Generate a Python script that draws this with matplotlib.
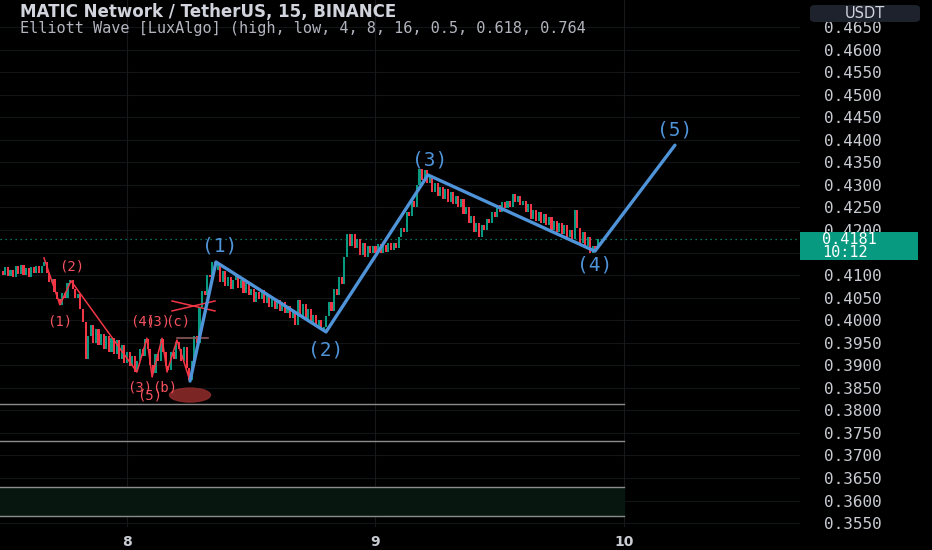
import matplotlib
matplotlib.use('Agg')
import matplotlib.pyplot as plt
from matplotlib.patches import Ellipse, Rectangle, FancyBboxPatch
import numpy as np

# ── velas de 15 min (cierres), la apertura es el cierre anterior ──────────────
closes = [
    # lateral inicial
    0.4100, 0.4118, 0.4098, 0.4112, 0.4095, 0.4120, 0.4102, 0.4122, 0.4100, 0.4115,
    0.4096, 0.4118, 0.4104, 0.4121, 0.4105, 0.4119, 0.4130,
    # caída (1) / rebote (2)
    0.4105, 0.4085, 0.4092, 0.4062, 0.4048, 0.4034,
    0.4060, 0.4050, 0.4082, 0.4088,
    0.4070, 0.4050, 0.4058, 0.4025, 0.3995, 0.3915, 0.3965,
    0.3990, 0.3950, 0.3980, 0.3945, 0.3970, 0.3935, 0.3965, 0.3930, 0.3960, 0.3925,
    0.3955, 0.3915, 0.3945, 0.3905, 0.3930, 0.3898,
    # zigzag del fondo
    0.3920, 0.3885, 0.3910, 0.3935, 0.3920, 0.3958, 0.3935, 0.3900, 0.3882, 0.3925,
    0.3910, 0.3958, 0.3930, 0.3898, 0.3890, 0.3930, 0.3915, 0.3952, 0.3935, 0.3910,
    0.3940, 0.3895, 0.3868,
    # onda (1)
    0.3910, 0.3965, 0.3950, 0.4030, 0.4065, 0.4055, 0.4100, 0.4095, 0.4128, 0.4112,
    # onda (2)
    0.4125, 0.4085, 0.4110, 0.4075, 0.4095, 0.4070, 0.4088, 0.4100, 0.4072, 0.4090,
    0.4060, 0.4082, 0.4055, 0.4070, 0.4040, 0.4062, 0.4048, 0.4068, 0.4038, 0.4055,
    0.4030, 0.4050, 0.4025, 0.4045, 0.4020, 0.4040, 0.4015, 0.4032, 0.4005, 0.4020,
    0.3990, 0.4045, 0.4010, 0.4035, 0.4000, 0.4025, 0.3995, 0.4012, 0.3985, 0.4000,
    0.3978, 0.3985,
    # onda (3)
    0.4010, 0.4040, 0.4020, 0.4070, 0.4055, 0.4095, 0.4080, 0.4140, 0.4190, 0.4165,
    0.4190, 0.4160, 0.4180, 0.4145, 0.4170, 0.4140, 0.4165, 0.4148, 0.4165, 0.4150,
    0.4168, 0.4150, 0.4166, 0.4152, 0.4170, 0.4155, 0.4172, 0.4160, 0.4185, 0.4205,
    0.4195, 0.4240, 0.4230, 0.4265, 0.4250, 0.4300, 0.4335, 0.4310, 0.4332, 0.4305,
    # onda (4)
    0.4318, 0.4285, 0.4305, 0.4275, 0.4295, 0.4268, 0.4290, 0.4262, 0.4285, 0.4258,
    0.4275, 0.4250, 0.4268, 0.4235, 0.4250, 0.4215, 0.4232, 0.4195, 0.4215, 0.4185,
    0.4210, 0.4200, 0.4225, 0.4215, 0.4240, 0.4228, 0.4255, 0.4240, 0.4262, 0.4248,
    0.4265, 0.4252, 0.4280, 0.4262, 0.4275, 0.4255, 0.4265, 0.4240, 0.4258, 0.4225,
    0.4245, 0.4220, 0.4240, 0.4215, 0.4235, 0.4210, 0.4228, 0.4200, 0.4220, 0.4195,
    0.4215, 0.4190, 0.4210, 0.4185, 0.4200, 0.4180, 0.4245, 0.4205, 0.4170, 0.4195,
    0.4165, 0.4185, 0.4150, 0.4165, 0.4158, 0.4181,
]
first_open = 0.4110
start_day = 7.5          # primera vela
bars_per_day = 96        # 15 min

# ── onda Elliott principal (azul) ─────────────────────────────────────────────
wave_x = [8.2535, 8.358, 8.801, 9.211, 9.883, 10.205]
wave_y = [0.3865, 0.4129, 0.3974, 0.4322, 0.4153, 0.4388]
wave_lbl = ["(1)", "(2)", "(3)", "(4)", "(5)"]
wave_lbl_x = [8.374, 8.801, 9.219, 9.883, 10.205]
wave_lbl_y = [0.4164, 0.3934, 0.4355, 0.4122, 0.4422]

# ── onda menor (roja) ─────────────────────────────────────────────────────────
sub_x = [7.666, 7.730, 7.775, 8.040, 8.080, 8.101, 8.141, 8.161, 8.201, 8.2535]
sub_y = [0.4138, 0.4034, 0.4087, 0.3885, 0.3960, 0.3874, 0.3960, 0.3885, 0.3956, 0.3865]
sub_lbl = ["(2)", "(1)", "(4)", "(3)", "(c)", "(3)", "(b)", "(5)"]
sub_lbl_x = [7.779, 7.730, 8.064, 8.124, 8.205, 8.052, 8.153, 8.092]
sub_lbl_y = [0.4120, 0.3996, 0.3998, 0.3998, 0.3998, 0.3851, 0.3851, 0.3833]

# niveles horizontales
levels = [0.3814, 0.3732, 0.3630, 0.3566]
last_price = 0.4181
price_ticks = np.arange(0.3550, 0.46501, 0.005)
day_ticks = [8, 9, 10]

GREEN = "#089981"
RED = "#f23645"
BLUE = "#4f93d8"
TXT = "#c8cbd2"

fig = plt.figure(figsize=(9.32, 5.5), dpi=100)
fig.patch.set_facecolor("#000000")
ax = fig.add_axes([0, 23 / 550, 800 / 932, 527 / 550])
ax.set_facecolor("#000000")
ax.set_xlim(7.4889, 10.7083)
ax.set_ylim(0.35414, 0.47099)

# rejilla tenue
for p in price_ticks:
    ax.axhline(p, color="#121418", lw=0.8, zorder=0)
for d in day_ticks:
    ax.axvline(d, color="#16181c", lw=0.8, zorder=0)

# zona verde y líneas de nivel
ax.fill_between([7.4889, 10.0], levels[3], levels[2], color="#07170f", zorder=1)
for lv in levels:
    ax.plot([7.4889, 10.0], [lv, lv], color="#8c8c8c", lw=1.0, zorder=2)

# velas
closes = np.array(closes)
opens = np.concatenate([[first_open], closes[:-1]])
xs = start_day + np.arange(len(closes)) / bars_per_day
cols = [GREEN if c >= o else RED for o, c in zip(opens, closes)]
h = np.maximum(np.abs(closes - opens), 0.0002)
ax.bar(xs, h, bottom=np.minimum(opens, closes), width=0.8 / bars_per_day,
       color=cols, edgecolor="none", zorder=3)

# precio actual
ax.axhline(last_price, color=GREEN, lw=0.9, ls=(0, (1, 3)), zorder=2)

# onda roja
ax.plot(sub_x, sub_y, color=RED, lw=1.1, zorder=4)
ax.plot([8.181, 8.354], [0.40425, 0.40204], color=RED, lw=1.1, zorder=4)
ax.plot([8.181, 8.354], [0.40204, 0.40425], color=RED, lw=1.1, zorder=4)
ax.plot([8.201, 8.326], [0.3960, 0.3960], color="#8c5858", lw=1.2, zorder=4)
ax.add_patch(Ellipse((8.2535, 0.3834), 0.165, 0.0031, color="#8a2a2a",
                     alpha=0.9, zorder=4))
for t, x, y in zip(sub_lbl, sub_lbl_x, sub_lbl_y):
    ax.text(x, y, t, color="#f7525f", fontsize=10, family="DejaVu Sans Mono",
            ha="center", va="center", zorder=5)

# onda azul
ax.plot(wave_x, wave_y, color=BLUE, lw=2.4, solid_capstyle="round", zorder=5)
for t, x, y in zip(wave_lbl, wave_lbl_x, wave_lbl_y):
    ax.text(x, y, t, color=BLUE, fontsize=14, family="DejaVu Sans Mono",
            ha="center", va="center", zorder=6)

# ejes
for s in ax.spines.values():
    s.set_visible(False)
ax.yaxis.tick_right()
ax.set_yticks(price_ticks)
# la etiqueta 0.4150 queda tapada por la caja del último precio
ax.set_yticklabels(["" if abs(p - 0.415) < 1e-6 else f"{p:.4f}" for p in price_ticks])
ax.set_xticks(day_ticks)
ax.set_xticklabels([str(d) for d in day_ticks])
ax.tick_params(axis="y", length=0, pad=17, labelsize=11.5, labelcolor=TXT)
ax.tick_params(axis="x", length=0, pad=6, labelsize=10, labelcolor=TXT)
for lab in ax.get_yticklabels():
    lab.set_family("DejaVu Sans Mono")
for lab in ax.get_xticklabels():
    lab.set_fontweight("bold")

# títulos
fig.text(20 / 932, 1 - 12 / 550, "MATIC Network / TetherUS, 15, BINANCE",
         color="#d1d4dc", fontsize=12, fontweight="bold", va="center", ha="left")
fig.text(20 / 932, 1 - 28 / 550,
         "Elliott Wave [LuxAlgo] (high, low, 4, 8, 16, 0.5, 0.618, 0.764",
         color="#b2b5be", fontsize=11, family="DejaVu Sans Mono",
         va="center", ha="left")

# caja USDT
fig.patches.append(FancyBboxPatch((810 / 932, 1 - 22 / 550), 110 / 932, 17 / 550,
                                  boxstyle="round,pad=0,rounding_size=0.006",
                                  transform=fig.transFigure, facecolor="#1e222d",
                                  edgecolor="none", zorder=5))
fig.text(865 / 932, 1 - 13 / 550, "USDT", color="#d1d4dc", fontsize=10.5,
         ha="center", va="center", zorder=6)

# etiqueta del último precio
fig.patches.append(Rectangle((800 / 932, 1 - 260 / 550), 118 / 932, 28 / 550,
                             transform=fig.transFigure, facecolor=GREEN,
                             edgecolor="none", zorder=5))
fig.text(822 / 932, 1 - 239 / 550, f"{last_price:.4f}", color="white", fontsize=11,
         family="DejaVu Sans Mono", ha="left", va="center", zorder=6)
fig.text(822 / 932, 1 - 252 / 550, "10:12", color="white", fontsize=11,
         family="DejaVu Sans Mono", ha="left", va="center", zorder=6)

fig.savefig("out.png", dpi=100, facecolor=fig.get_facecolor())
